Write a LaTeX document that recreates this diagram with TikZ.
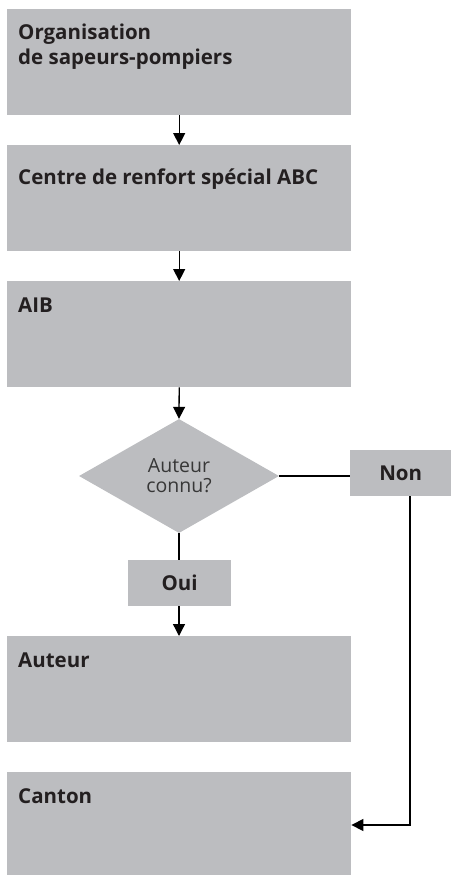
\documentclass[tikz,border=0pt]{standalone}
\usepackage{fontspec}
\setmainfont{Open Sans}
\usetikzlibrary{shapes.geometric,arrows.meta}
\definecolor{boxgray}{RGB}{188,189,192}
\definecolor{txt}{RGB}{35,31,32}
\definecolor{qtxt}{RGB}{55,55,55}
\begin{document}
\begin{tikzpicture}[x=1pt,y=-1pt,
  box/.style={fill=boxgray, draw=none, minimum width=344pt, minimum height=106pt, inner sep=0pt, anchor=north west},
  small/.style={fill=boxgray, draw=none, minimum height=46pt, inner sep=0pt, anchor=north west,
    font=\fontsize{20.5}{25}\selectfont\bfseries, text=txt},
  lbl/.style={font=\fontsize{20.5}{25}\selectfont\bfseries, text=txt, align=left, anchor=base west, inner sep=0pt},
  conn/.style={line width=1.3pt, draw=black},
  arr/.style={conn, -{Triangle[length=12pt,width=12pt]}}
]
\useasboundingbox (0,0) rectangle (451,875);
\path[clip] (0,0) rectangle (451,875);
% boxes
\node[box] (org) at (7,9) {};
\node[box] (cen) at (7,145) {};
\node[box] (aib) at (7,281) {};
\node[box] (aut) at (7,636) {};
\node[box] (can) at (7,772) {};
% labels
\node[lbl] (torg) at ([shift={(11,56)}]org.north west) {Organisation\\de sapeurs-pompiers};
\node[lbl] (tcen) at ([shift={(11,39)}]cen.north west) {Centre de renfort spécial ABC};
\node[lbl] (taib) at ([shift={(11,31)}]aib.north west) {AIB};
\node[lbl] (taut) at ([shift={(11,31)}]aut.north west) {Auteur};
\node[lbl] (tcan) at ([shift={(11,31)}]can.north west) {Canton};
% decision
\node[diamond, fill=boxgray, minimum width=200pt, minimum height=114pt, inner sep=0pt,
  align=center, font=\fontsize{19.5}{20}\selectfont, text=qtxt] (q) at (179,476) {Auteur\\connu?};
\node[small, minimum width=101pt] (non) at (350,450) {Non};
\node[small, minimum width=103pt] (oui) at (128,560) {Oui};
\coordinate (bend) at (410,825);
% connectors
\draw[arr] (org.south) -- (cen.north);
\draw[arr] (cen.south) -- (aib.north);
\draw[arr] (aib.south) -- (q.north);
\draw[conn] (q.south) -- (q.south |- oui.north);
\draw[arr] (q.south |- oui.south) -- (q.south |- aut.north);
\draw[conn] (q.east) -- (q.east -| non.west);
\draw[arr] (non.south -| bend) -- (bend) -- (can.east |- bend);
\end{tikzpicture}
\end{document}
